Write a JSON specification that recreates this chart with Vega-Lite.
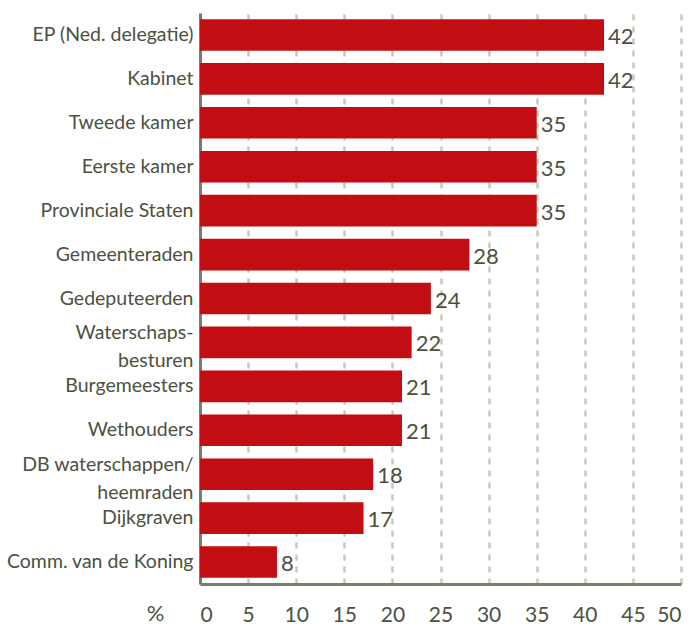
{
  "$schema": "https://vega.github.io/schema/vega-lite/v6.json",
  "width": 481,
  "height": 571,
  "autosize": {"type": "none"},
  "padding": {"left": 200, "top": 13, "right": 15, "bottom": 44},
  "background": "white",
  "config": {
    "view": {"stroke": null},
    "font": "Lato"
  },
  "data": {
    "values": [
      {"label": "EP (Ned. delegatie)", "value": 42},
      {"label": "Kabinet", "value": 42},
      {"label": "Tweede kamer", "value": 35},
      {"label": "Eerste kamer", "value": 35},
      {"label": "Provinciale Staten", "value": 35},
      {"label": "Gemeenteraden", "value": 28},
      {"label": "Gedeputeerden", "value": 24},
      {"label": "Waterschaps-|besturen", "value": 22},
      {"label": "Burgemeesters", "value": 21},
      {"label": "Wethouders", "value": 21},
      {"label": "DB waterschappen/|heemraden", "value": 18},
      {"label": "Dijkgraven", "value": 17},
      {"label": "Comm. van de Koning", "value": 8}
    ]
  },
  "encoding": {
    "y": {
      "field": "label", "type": "nominal", "sort": null,
      "scale": {"paddingInner": 0.28, "paddingOuter": 0.14},
      "axis": {
        "title": null, "ticks": false, "domainColor": "#7a7d6a", "domainWidth": 3,
        "labelFontSize": 19.5, "labelColor": "#4b5140", "labelPadding": 7, "labelLimit": 300,
        "labelExpr": "split(datum.label, '|')", "labelLineHeight": 28,
        "labelOffset": {"condition": {"test": "indexof(datum.value, '|') >= 0", "value": -9}, "value": 0}
      }
    },
    "x": {
      "field": "value", "type": "quantitative",
      "scale": {"domain": [0, 50], "nice": false},
      "axis": {
        "values": [0, 5, 10, 15, 20, 25, 30, 35, 40, 45, 50],
        "title": "%", "titleFontSize": 22, "titleFontWeight": "normal", "titleColor": "#4b5140",
        "titleX": -45, "titleY": 29, "titleAlign": "center", "titleBaseline": "middle",
        "ticks": false, "domainColor": "#7a7d6a", "domainWidth": 3,
        "labelFontSize": 21, "labelColor": "#4b5140", "labelPadding": 20,
        "grid": true, "gridColor": "#c9c9b9", "gridWidth": 2.5, "gridDash": [6, 6]
      }
    }
  },
  "layer": [
    {"mark": {"type": "bar", "color": "#c20e12"}},
    {
      "mark": {"type": "text", "align": "left", "baseline": "middle", "dx": 4, "dy": 2, "fontSize": 22, "color": "#4b5140"},
      "encoding": {"text": {"field": "value"}}
    }
  ]
}
